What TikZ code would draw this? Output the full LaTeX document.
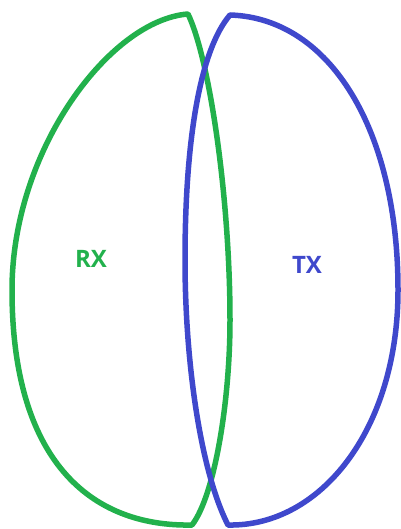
\documentclass[tikz,border=0pt]{standalone}
\usepackage{fontspec}
\setsansfont{Open Sans}
\usepackage{xcolor}
\definecolor{rxgreen}{HTML}{22B14C}
\definecolor{txblue}{HTML}{3F48CC}

\begin{document}
\begin{tikzpicture}[x=1pt,y=-1pt,
  zone/.style={line width=5.5pt,line join=round},
  zonelabel/.style={font=\sffamily\bfseries\fontsize{24}{28}\selectfont}]
  \useasboundingbox (0,0) rectangle (400,529);
  % RX region
  \coordinate (RT) at (188,14);
  \coordinate (RL) at (12,290);
  \coordinate (RB) at (192,525);
  \coordinate (RM) at (230,320);
  % TX region
  \coordinate (TT) at (230,15);
  \coordinate (TR) at (398,290);
  \coordinate (TB) at (228,525);
  \coordinate (TM) at (185,260);
  \draw[zone,rxgreen] (RT) .. controls (110,20) and (12,150) .. (RL)
    .. controls (12,460) and (90,527) .. (RB)
    .. controls (215,495) and (230,400) .. (RM)
    .. controls (230,200) and (210,60) .. cycle;
  \draw[zone,txblue] (TT) .. controls (330,18) and (398,130) .. (TR)
    .. controls (398,430) and (320,527) .. (TB)
    .. controls (200,470) and (185,360) .. (TM)
    .. controls (185,140) and (200,50) .. cycle;
  \node[zonelabel,text=rxgreen] (rx) at (91,259) {RX};
  \node[zonelabel,text=txblue] (tx) at (307,265) {TX};
\end{tikzpicture}
\end{document}
